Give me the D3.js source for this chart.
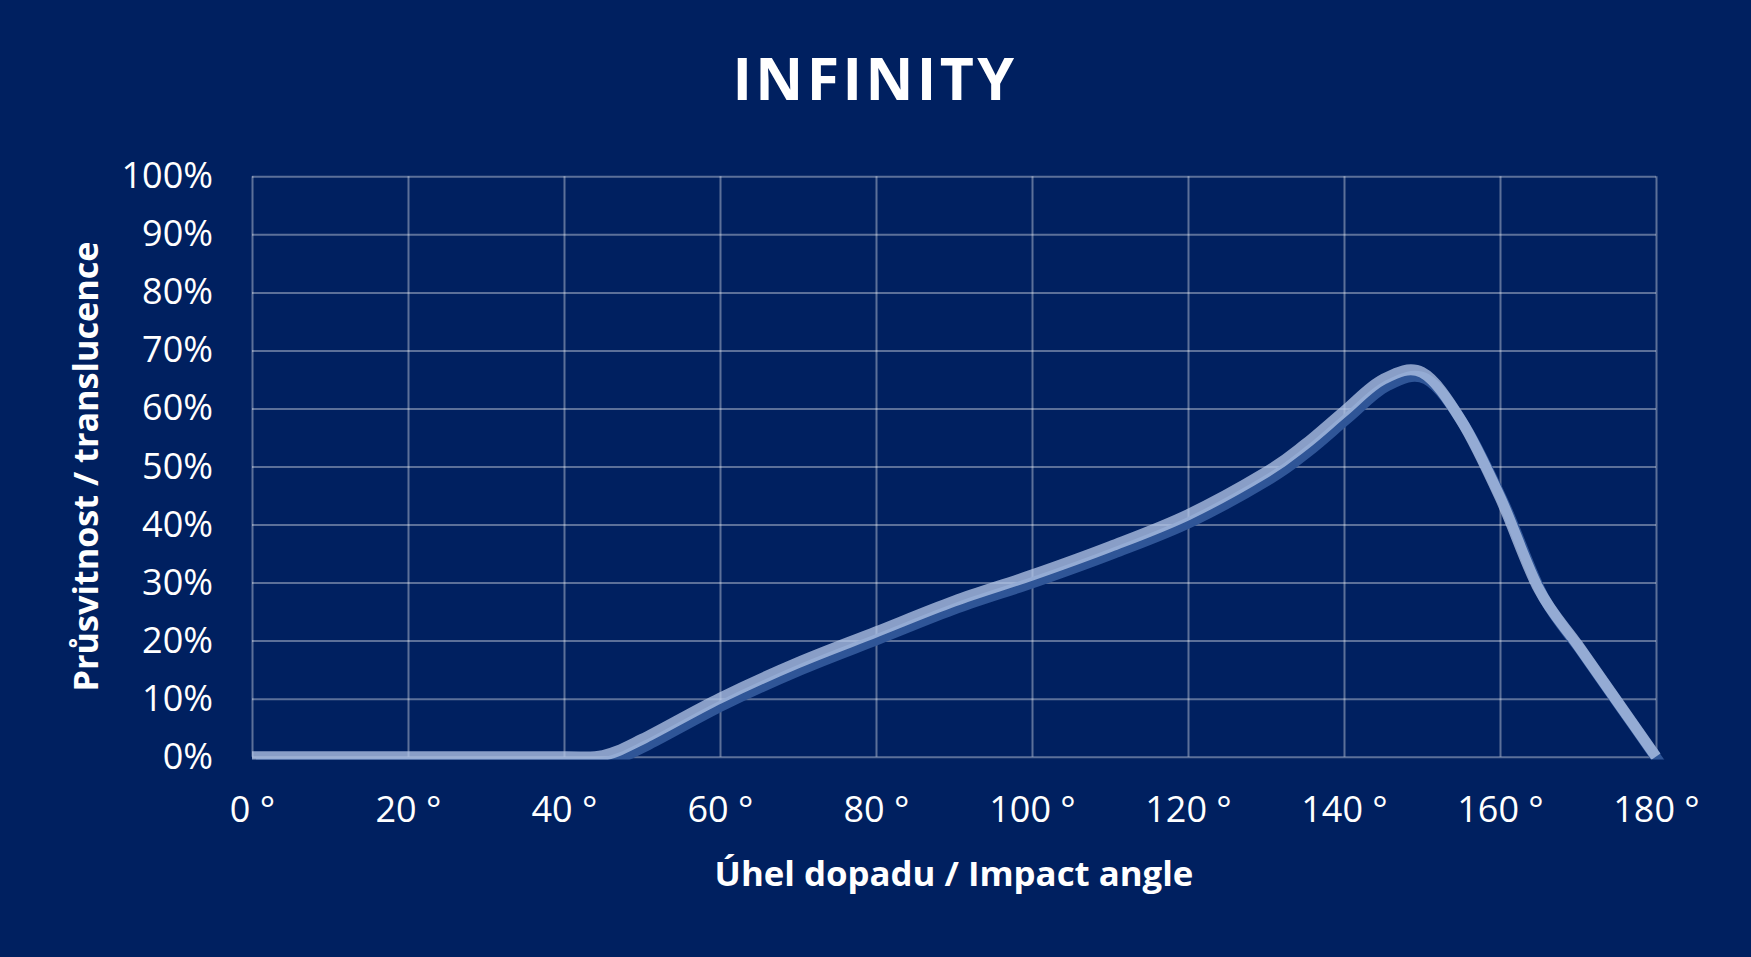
<!DOCTYPE html>
<html>
<head>
<meta charset="utf-8">
<script src="https://cdnjs.cloudflare.com/ajax/libs/d3/7.8.5/d3.min.js"></script>
<style>
  html, body { margin: 0; padding: 0; background: #002060; }
  svg { display: block; }
  text { font-family: "Open Sans", sans-serif; fill: #ffffff; }
</style>
</head>
<body>
<div id="chart"></div>
<script>
// values
const angles = [0, 10, 20, 30, 40, 45, 50, 60, 70, 80, 90, 100, 110, 120, 130, 135, 140, 145, 150, 155, 160, 165, 170, 175, 180];
const translucence = [0, 0, 0, 0, 0, 0.002, 0.03, 0.101, 0.162, 0.215, 0.268, 0.313, 0.362, 0.417, 0.49, 0.538, 0.595, 0.65, 0.662, 0.58, 0.447, 0.288, 0.192, 0.096, 0];
const xTicks = [0, 20, 40, 60, 80, 100, 120, 140, 160, 180];
const yTicks = [0, 0.1, 0.2, 0.3, 0.4, 0.5, 0.6, 0.7, 0.8, 0.9, 1];

const title = "INFINITY";
const xTitle = "Úhel dopadu / Impact angle";
const yTitle = "Průsvitnost / translucence";

const W = 1751, H = 957;
const margin = {top: 176.3, right: 95, bottom: 200.3, left: 252};
const width = W - margin.left - margin.right;
const height = H - margin.top - margin.bottom;

const svg = d3.select("#chart")
  .append("svg")
  .attr("width", W)
  .attr("height", H);

svg.append("rect")
  .attr("width", W)
  .attr("height", H)
  .attr("fill", "#002060");

svg.append("text")
  .attr("x", 875)
  .attr("y", 100)
  .attr("text-anchor", "middle")
  .attr("font-size", 59)
  .attr("font-weight", 700)
  .attr("letter-spacing", 3.4)
  .text(title);

const g = svg.append("g")
  .attr("transform", "translate(" + margin.left + "," + margin.top + ")");

const x = d3.scaleLinear().domain([0, 180]).range([0, width]);
const y = d3.scaleLinear().domain([0, 1]).range([height, 0]);

// grid
const xGrid = g.append("g")
  .attr("transform", "translate(0," + height + ")")
  .call(d3.axisBottom(x).tickValues(xTicks).tickSize(-height).tickFormat(""));
const yGrid = g.append("g")
  .call(d3.axisLeft(y).tickValues(yTicks).tickSize(-width).tickFormat(""));
[xGrid, yGrid].forEach(function(a) {
  a.select(".domain").remove();
  a.selectAll("line")
    .attr("stroke", "#ffffff")
    .attr("stroke-opacity", 0.36)
    .attr("stroke-width", 2);
});

// tick labels
const xAxis = g.append("g")
  .attr("transform", "translate(0," + height + ")")
  .call(d3.axisBottom(x).tickValues(xTicks).tickSize(0).tickFormat(function(d) { return d + " °"; }));
xAxis.select(".domain").remove();
xAxis.selectAll("text")
  .attr("y", 65)
  .attr("dy", 0)
  .attr("font-size", 36)
  .attr("fill", "#ffffff");

const yAxis = g.append("g")
  .call(d3.axisLeft(y).tickValues(yTicks).tickSize(0).tickPadding(39).tickFormat(d3.format(".0%")));
yAxis.select(".domain").remove();
yAxis.selectAll("text")
  .attr("font-size", 36)
  .attr("fill", "#ffffff");

// axis titles
svg.append("text")
  .attr("x", margin.left + width / 2)
  .attr("y", 886)
  .attr("text-anchor", "middle")
  .attr("font-size", 34.8)
  .attr("font-weight", 700)
  .text(xTitle);

svg.append("text")
  .attr("transform", "translate(98," + (margin.top + height / 2) + ") rotate(-90)")
  .attr("text-anchor", "middle")
  .attr("font-size", 34.2)
  .attr("font-weight", 700)
  .text(yTitle);

// line + its shadow, clipped at the bottom of the plot
g.append("clipPath")
  .attr("id", "plotClip")
  .append("rect")
  .attr("x", -20)
  .attr("y", -40)
  .attr("width", width + 40)
  .attr("height", height + 42.8);

const data = angles.map(function(a, i) { return {a: a, v: translucence[i]}; });

const line = d3.line()
  .x(function(d) { return x(d.a); })
  .y(function(d) { return y(d.v); })
  .curve(d3.curveCardinal.tension(0));

const lines = g.append("g").attr("clip-path", "url(#plotClip)");

lines.append("path")
  .datum(data)
  .attr("transform", "translate(4,6.5)")
  .attr("d", line)
  .attr("fill", "none")
  .attr("stroke", "#2F5597")
  .attr("stroke-width", 11);

lines.append("path")
  .datum(data)
  .attr("d", line)
  .attr("fill", "none")
  .attr("stroke", "#B4C7E7")
  .attr("stroke-opacity", 0.76)
  .attr("stroke-width", 11);
</script>
</body>
</html>
